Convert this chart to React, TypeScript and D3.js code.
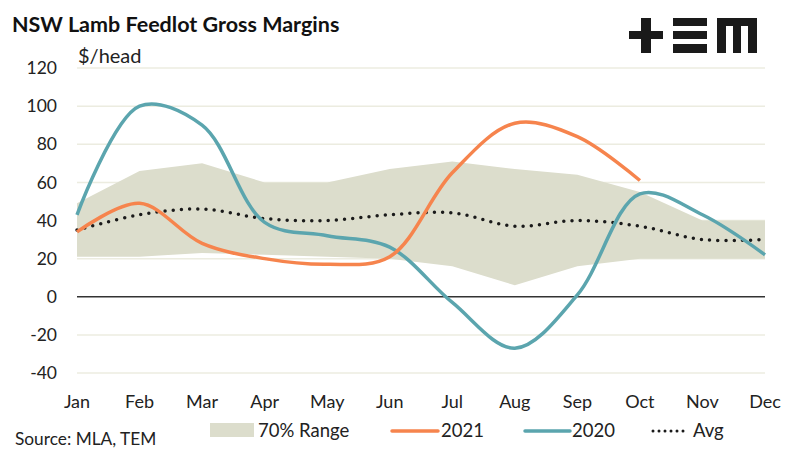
import * as d3 from "d3";

const months = ["Jan", "Feb", "Mar", "Apr", "May", "Jun", "Jul", "Aug", "Sep", "Oct", "Nov", "Dec"];
const rangeHigh = [49, 66, 70, 60, 60, 67, 71, 67, 64, 55, 40, 40];
const rangeLow = [21, 21, 23, 22, 21, 20, 16, 6, 16, 20, 20, 20];
const y2021 = [34, 49, 28, 20, 17, 21, 65, 91, 84, 61];
const y2020 = [43, 100, 90, 39, 32, 26, -3, -27, 1, 54, 43, 22];
const avg = [35, 43, 46, 41, 40, 43, 44, 37, 40, 37, 30, 30];
const yTicks = [-40, -20, 0, 20, 40, 60, 80, 100, 120];

const W = 797;
const H = 452;
const font = "Lato, 'Open Sans', sans-serif";

export default function App() {
  const x = d3.scalePoint<string>().domain(months).range([77, 765]);
  const y = d3.scaleLinear().domain([-40, 120]).range([373, 68]);

  const area = d3
    .area<number>()
    .x((_, i) => x(months[i])!)
    .y0((_, i) => y(rangeLow[i]))
    .y1((d) => y(d));

  const line = d3
    .line<number>()
    .x((_, i) => x(months[i])!)
    .y((d) => y(d))
    .curve(d3.curveCatmullRom.alpha(0.5));

  return (
    <svg width={W} height={H} style={{ position: "absolute", left: 0, top: 0 }} fontFamily={font}>
      <rect width={W} height={H} fill="#fff" />
      <text x={12} y={32} fontSize={21.5} fontWeight="bold" fill="#111">
        NSW Lamb Feedlot Gross Margins
      </text>
      {/* logo */}
      <g fill="#1a1a1a">
        <rect x={629} y={31} width={34} height={8} />
        <rect x={641} y={18} width={10} height={35} />
        <rect x={673} y={18} width={34} height={8} />
        <rect x={673} y={31} width={34} height={8} />
        <rect x={673} y={44} width={34} height={9} />
        <path d="M717,18 H757 V53 H748 V26 H741 V53 H733 V26 H726 V53 H717 Z" />
      </g>
      <text x={78} y={63} fontSize={20} fill="#222">$/head</text>

      {yTicks.map((t) => (
        <g key={t}>
          <line
            x1={77}
            x2={765}
            y1={y(t)}
            y2={y(t)}
            stroke={t === 0 ? "#333" : "#ecece0"}
            strokeWidth={t === 0 ? 1.3 : 1.5}
          />
          <text x={57} y={y(t)} dy="0.35em" textAnchor="end" fontSize={17.5} fill="#222">
            {t}
          </text>
        </g>
      ))}

      <path d={area(rangeHigh)!} fill="#dcddcc" />
      <path d={line(avg)!} fill="none" stroke="#1a1a1a" strokeWidth={3.5} strokeLinecap="round" strokeDasharray="0 8.2" />
      <path d={line(y2020)!} fill="none" stroke="#5ba5ae" strokeWidth={3.5} />
      <path d={line(y2021)!} fill="none" stroke="#f6844d" strokeWidth={3.5} />

      {months.map((m) => (
        <text key={m} x={x(m)} y={408} textAnchor="middle" fontSize={18} fill="#222">
          {m}
        </text>
      ))}

      <text x={15} y={445} fontSize={17.3} fill="#222">Source: MLA, TEM</text>
      <g fontSize={18.5} fill="#222">
        <rect x={210} y={423} width={44} height={14} fill="#dcddcc" />
        <text x={258} y={437}>70% Range</text>
        <line x1={392} x2={438} y1={431} y2={431} stroke="#f6844d" strokeWidth={3.5} strokeLinecap="round" />
        <text x={441} y={437}>2021</text>
        <line x1={525} x2={570} y1={431} y2={431} stroke="#5ba5ae" strokeWidth={3.5} strokeLinecap="round" />
        <text x={572} y={437}>2020</text>
        <line x1={653} x2={688} y1={431} y2={431} stroke="#1a1a1a" strokeWidth={3} strokeLinecap="round" strokeDasharray="0 6" />
        <text x={693} y={437}>Avg</text>
      </g>
    </svg>
  );
}
